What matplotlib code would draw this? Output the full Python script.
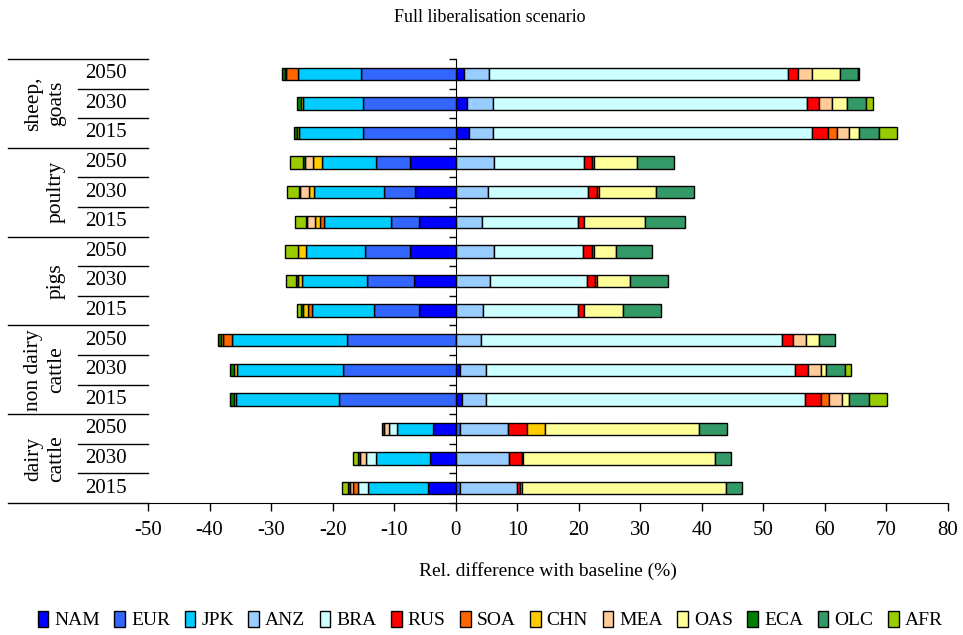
import numpy as np
import matplotlib
matplotlib.use("Agg")
import matplotlib.pyplot as plt
from matplotlib.patches import Patch
from matplotlib.lines import Line2D
from matplotlib.transforms import blended_transform_factory

plt.rcParams['font.family'] = ['Liberation Serif', 'DejaVu Serif']

# Rows from bottom to top
groups = ["dairy\ncattle", "non dairy\ncattle", "pigs", "poultry", "sheep,\ngoats"]
years = ["2015", "2030", "2050"]

regions = ["NAM", "EUR", "JPK", "ANZ", "BRA", "RUS", "SOA", "CHN",
           "MEA", "OAS", "ECA", "OLC", "AFR"]
colors = ["#0000FF", "#3366FF", "#00CCFF", "#99CCFF", "#CCFFFF", "#FF0000",
          "#FF6600", "#FFCC00", "#FFCC99", "#FFFF99", "#008000", "#339966",
          "#99CC00"]

# Relative difference with baseline (%), one list per region,
# rows: dairy 2015/2030/2050, non dairy 2015/2030/2050, pigs ..., poultry ..., sheep ...
NAM = [-4.5, -4.1, -3.7,   1.0, 0.65, 0.0,   -6.0, -6.8, -7.4,   -6.0, -6.6, -7.4,   2.2, 1.85, 1.35]
EUR = [0.65, 0.0, 0.65,   -19.0, -18.3, -17.7,   -7.2, -7.6, -7.4,   -4.5, -5.1, -5.6,   -15.0, -15.0, -15.4]
JPK = [-9.7, -8.9, -5.9,   -16.7, -17.2, -18.6,   -10.2, -10.6, -9.5,   -10.9, -11.3, -8.8,   -10.5, -9.8, -10.3]
ANZ = [9.35, 8.7, 7.85,   4.0, 4.25, 4.1,   4.4, 5.5, 6.3,   4.2, 5.3, 6.2,   3.9, 4.25, 4.05]
BRA = [-1.7, -1.5, -1.25,   51.7, 50.3, 48.9,   15.5, 15.8, 14.4,   15.7, 16.2, 14.7,   51.8, 51.0, 48.6]
RUS = [0.4, 2.0, 3.1,   2.6, 2.1, 1.8,   1.0, 1.4, 1.5,   0.9, 1.5, 1.3,   2.6, 2.0, 1.7]
SOA = [-0.8, 0.3, 0.0,   1.3, 0.0, -1.55,   -0.65, 0.3, 0.3,   -0.6, 0.3, 0.3,   1.5, 0.0, -1.9]
CHN = [0.3, 0.0, 2.9,   -0.35, -0.5, -0.3,   -0.7, -0.7, -1.35,   -0.85, -0.8, -1.4,   -0.3, -0.3, -0.2]
MEA = [-0.5, -1.0, -0.75,   2.1, 2.0, 2.2,   0.0, 0.0, 0.0,   -1.25, -1.5, -1.25,   1.9, 2.1, 2.2]
OAS = [33.2, 31.1, 25.1,   1.2, 0.8, 2.1,   6.3, 5.3, 3.6,   10.0, 9.2, 6.9,   1.7, 2.4, 4.5]
ECA = [-0.3, -0.4, -0.4,   -0.6, -0.7, -0.4,   -0.4, -0.3, 0.0,   -0.3, -0.2, -0.3,   -0.4, -0.7, -0.4]
OLC = [2.7, 2.6, 4.5,   3.2, 3.2, 2.6,   6.2, 6.2, 5.8,   6.4, 6.3, 6.1,   3.2, 3.0, 2.9]
AFR = [-1.0, -0.8, 0.0,   3.0, 1.0, 0.0,   -0.6, -1.6, -2.1,   -1.7, -1.9, -2.1,   2.9, 1.2, 0.2]

series = [NAM, EUR, JPK, ANZ, BRA, RUS, SOA, CHN, MEA, OAS, ECA, OLC, AFR]
x_ticks = [-50, -40, -30, -20, -10, 0, 10, 20, 30, 40, 50, 60, 70, 80]

W, H = 963, 635
fig = plt.figure(figsize=(W / 100, H / 100), dpi=100)
ax = fig.add_axes([148 / W, 1 - 503 / H, (948 - 148) / W, (503 - 59) / H])

n_rows = len(groups) * len(years)
y = np.arange(n_rows)
pos_base = np.zeros(n_rows)
neg_base = np.zeros(n_rows)
for vals, col in zip(series, colors):
    v = np.array(vals, dtype=float)
    pos = v > 0
    neg = v < 0
    if pos.any():
        ax.barh(y[pos], v[pos], left=pos_base[pos], height=0.42, color=col,
                edgecolor="black", linewidth=1.0, zorder=3)
    if neg.any():
        ax.barh(y[neg], v[neg], left=neg_base[neg], height=0.42, color=col,
                edgecolor="black", linewidth=1.0, zorder=3)
    pos_base[pos] += v[pos]
    neg_base[neg] += v[neg]

ax.set_xlim(-50, 80)
ax.set_ylim(-0.5, n_rows - 0.5)
ax.set_xticks(x_ticks)
ax.set_xticklabels([str(t) for t in x_ticks], fontsize=15)
ax.tick_params(axis="x", direction="out", length=6, width=1, pad=7)
ax.set_xlabel("Rel. difference with baseline (%)", fontsize=14, labelpad=16)

# vertical axis at zero with ticks on row boundaries
ax.spines["left"].set_position(("data", 0))
ax.spines["right"].set_visible(False)
ax.spines["top"].set_visible(False)
ax.spines["left"].set_zorder(4)
ax.set_yticks(np.arange(-0.5, n_rows, 1.0))
ax.set_yticklabels([])
ax.tick_params(axis="y", direction="out", length=5, width=1)

# category table on the left
trans = blended_transform_factory(fig.transFigure, ax.transData)
for i in range(n_rows):
    ax.text(106 / W, i, years[i % 3], transform=trans, ha="center", va="center",
            fontsize=15)
for g, name in enumerate(groups):
    ax.text(66 / W, g * 3 + 1, name, transform=trans, rotation=90, ha="right",
            va="center", multialignment="center", fontsize=15.5, linespacing=1.25)
for b in range(n_rows + 1):
    yb = b - 0.5
    x0 = 8 / W if b % 3 == 0 else 78 / W
    fig.add_artist(Line2D([x0, 148 / W], [yb, yb], transform=trans,
                          color="black", linewidth=1.0))

fig.text(490 / W, 1 - 18 / H, "Full liberalisation scenario", ha="center",
         va="center", fontsize=13)

handles = [Patch(facecolor=c, edgecolor="black", linewidth=1.0) for c in colors]
fig.legend(handles, regions, loc="center", bbox_to_anchor=(490 / W, 1 - 620 / H),
           ncol=len(regions), frameon=False, fontsize=14, handlelength=0.55,
           handleheight=0.9, handletextpad=0.3, columnspacing=0.75,
           borderaxespad=0)

fig.savefig("out.png", dpi=100)
